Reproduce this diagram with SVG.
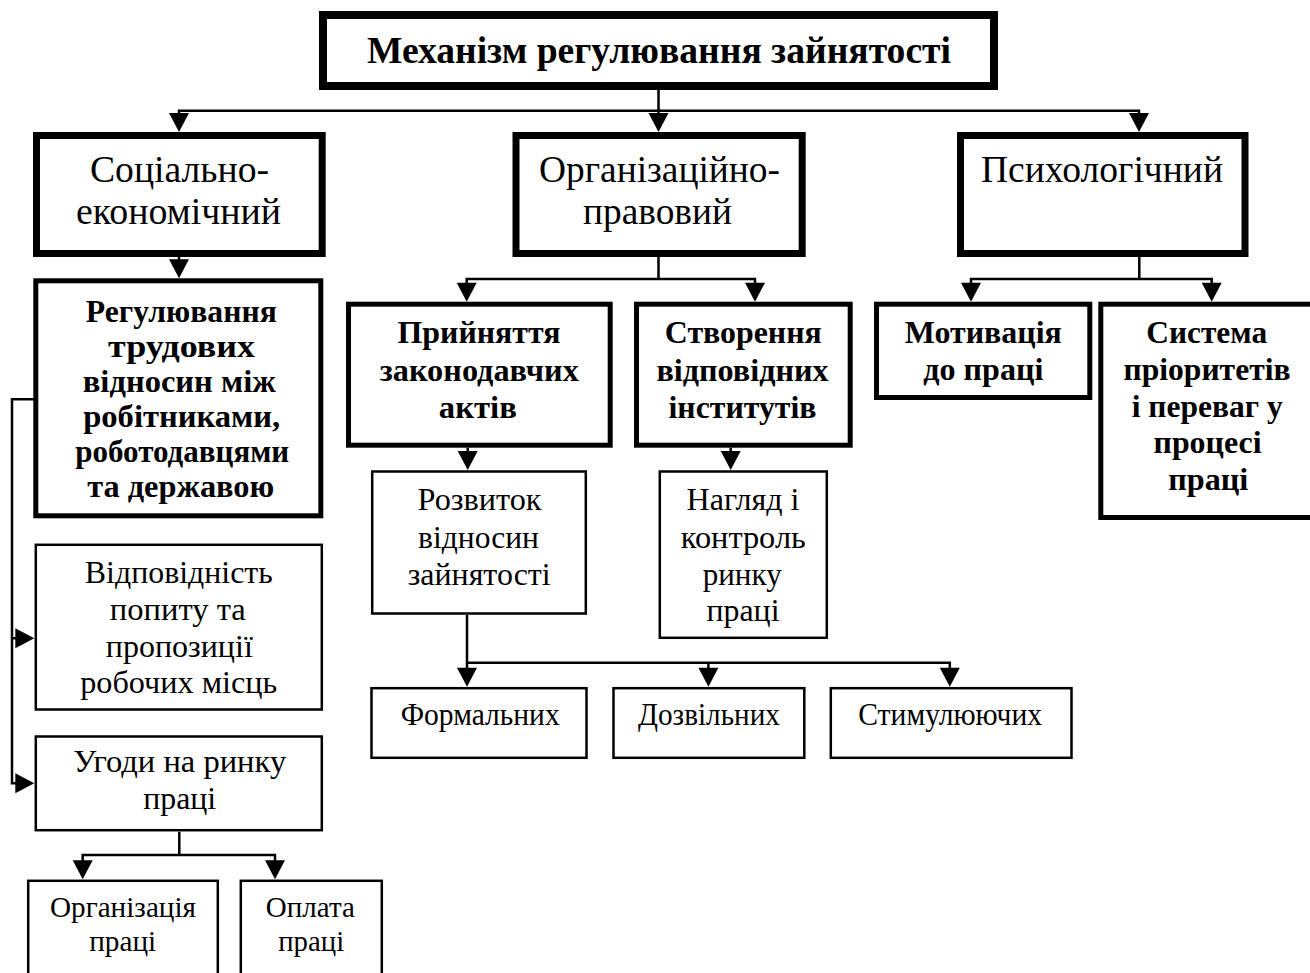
<svg xmlns="http://www.w3.org/2000/svg" xmlns:xlink="http://www.w3.org/1999/xlink" width="1310" height="973" viewBox="0 0 1310 973">
<defs>
<style>
.b{fill:#fff;stroke:#000}
.w8{stroke-width:8}
.w7{stroke-width:7}
.w5{stroke-width:5}
.w3{stroke-width:2.5}
.c{fill:none;stroke:#000;stroke-width:2.5}
text{font-family:"Liberation Serif","Times New Roman",serif;fill:#000;text-anchor:middle}
.t{font-size:38px;font-weight:bold}
.l1{font-size:37px}
.bd{font-size:32px;font-weight:bold}
.r{font-size:32px}
.s{font-size:29.5px}
</style>
<path id="ad" d="M-10,-19 L10,-19 L0,0 Z" fill="#000"/>
<path id="ar" d="M-19,-10 L-19,10 L0,0 Z" fill="#000"/>
</defs>
<rect width="1310" height="973" fill="#fff"/>

<g id="connectors">
<path class="c" d="M658.5,90 V116 M179,116 V110.7 H1139 V116"/>
<use xlink:href="#ad" x="179" y="132"/>
<use xlink:href="#ad" x="658.5" y="132"/>
<use xlink:href="#ad" x="1139" y="132"/>
<path class="c" d="M179,257 V264"/>
<use xlink:href="#ad" x="179" y="278.3"/>
<path class="c" d="M658.5,257 V279 M466.7,285 V279 H755 V285"/>
<use xlink:href="#ad" x="466.7" y="301.7"/>
<use xlink:href="#ad" x="755" y="301.7"/>
<path class="c" d="M1139.3,257 V279 M971,285 V279 H1211.7 V285"/>
<use xlink:href="#ad" x="971" y="301.7"/>
<use xlink:href="#ad" x="1211.7" y="301.7"/>
<path class="c" d="M467.7,447.7 V455"/>
<use xlink:href="#ad" x="467.7" y="470"/>
<path class="c" d="M730.7,447.7 V455"/>
<use xlink:href="#ad" x="730.7" y="470"/>
<path class="c" d="M467,615 V662.7 H949.8 V670 M708.4,662.7 V670 M467,662.7 V670"/>
<use xlink:href="#ad" x="467" y="686.7"/>
<use xlink:href="#ad" x="708.4" y="686.7"/>
<use xlink:href="#ad" x="949.8" y="686.7"/>
<path class="c" d="M34,399.3 H12 V783.3 H20 M12,638.3 H20"/>
<use xlink:href="#ar" x="34.3" y="638.3"/>
<use xlink:href="#ar" x="34.3" y="783.3"/>
<path class="c" d="M179.3,831.7 V855 M82.7,862 V855 H275 V862"/>
<use xlink:href="#ad" x="82.7" y="879.3"/>
<use xlink:href="#ad" x="275" y="879.3"/>
</g>

<g id="n-title">
<rect class="b w8" x="323" y="15" width="671" height="71"/>
<text class="t" x="659" y="63" textLength="584" lengthAdjust="spacingAndGlyphs">Механізм регулювання зайнятості</text>
</g>

<g id="n-soc">
<rect class="b w7" x="36.5" y="135.5" width="285.7" height="118"/>
<text class="l1" x="179.5" y="181.7" textLength="179" lengthAdjust="spacingAndGlyphs">Соціально-</text>
<text class="l1" x="178.5" y="224" textLength="205" lengthAdjust="spacingAndGlyphs">економічний</text>
</g>

<g id="n-org">
<rect class="b w7" x="516" y="135.5" width="286.2" height="118"/>
<text class="l1" x="659.5" y="181.7" textLength="241" lengthAdjust="spacingAndGlyphs">Організаційно-</text>
<text class="l1" x="657.5" y="224" textLength="149" lengthAdjust="spacingAndGlyphs">правовий</text>
</g>

<g id="n-psy">
<rect class="b w7" x="960.5" y="135.5" width="284.5" height="118"/>
<text class="l1" x="1102" y="182" textLength="242" lengthAdjust="spacingAndGlyphs">Психологічний</text>
</g>

<g id="n-reg">
<rect class="b w5" x="35.8" y="280.8" width="285" height="235"/>
<text class="bd" x="181.3" y="321.7" textLength="191" lengthAdjust="spacingAndGlyphs">Регулювання</text>
<text class="bd" x="181.5" y="356.7" textLength="147" lengthAdjust="spacingAndGlyphs">трудових</text>
<text class="bd" x="179.3" y="391.7" textLength="193" lengthAdjust="spacingAndGlyphs">відносин між</text>
<text class="bd" x="181.7" y="426.7" textLength="197" lengthAdjust="spacingAndGlyphs">робітниками,</text>
<text class="bd" x="182.2" y="461.7" textLength="214" lengthAdjust="spacingAndGlyphs">роботодавцями</text>
<text class="bd" x="180.7" y="496.7" textLength="187" lengthAdjust="spacingAndGlyphs">та державою</text>
</g>

<g id="n-pryin">
<rect class="b w5" x="348.5" y="304.2" width="261.7" height="141"/>
<text class="bd" x="479" y="343.3" textLength="163" lengthAdjust="spacingAndGlyphs">Прийняття</text>
<text class="bd" x="479.3" y="381" textLength="199" lengthAdjust="spacingAndGlyphs">законодавчих</text>
<text class="bd" x="477.8" y="418.3" textLength="78" lengthAdjust="spacingAndGlyphs">актів</text>
</g>

<g id="n-stv">
<rect class="b w5" x="636.5" y="304.2" width="213.7" height="141"/>
<text class="bd" x="743.3" y="343.3" textLength="157" lengthAdjust="spacingAndGlyphs">Створення</text>
<text class="bd" x="742.5" y="381" textLength="172" lengthAdjust="spacingAndGlyphs">відповідних</text>
<text class="bd" x="742.5" y="418.3" textLength="148" lengthAdjust="spacingAndGlyphs">інститутів</text>
</g>

<g id="n-mot">
<rect class="b w5" x="876.5" y="304.2" width="213.3" height="93.3"/>
<text class="bd" x="983.3" y="343.3" textLength="157" lengthAdjust="spacingAndGlyphs">Мотивація</text>
<text class="bd" x="983.3" y="380" textLength="120" lengthAdjust="spacingAndGlyphs">до праці</text>
</g>

<g id="n-sys">
<rect class="b w5" x="1100.8" y="304.2" width="300" height="213.3"/>
<text class="bd" x="1206.7" y="343.3" textLength="121" lengthAdjust="spacingAndGlyphs">Система</text>
<text class="bd" x="1207" y="380" textLength="167" lengthAdjust="spacingAndGlyphs">пріоритетів</text>
<text class="bd" x="1207.2" y="416.7" textLength="151" lengthAdjust="spacingAndGlyphs">і переваг у</text>
<text class="bd" x="1207.5" y="453.3" textLength="108" lengthAdjust="spacingAndGlyphs">процесі</text>
<text class="bd" x="1208.3" y="490" textLength="80" lengthAdjust="spacingAndGlyphs">праці</text>
</g>

<g id="n-rozv">
<rect class="b w3" x="372.2" y="471.5" width="213.6" height="142"/>
<text class="r" x="479.5" y="510" textLength="124" lengthAdjust="spacingAndGlyphs">Розвиток</text>
<text class="r" x="478.5" y="547.7" textLength="121" lengthAdjust="spacingAndGlyphs">відносин</text>
<text class="r" x="479.2" y="585" textLength="143" lengthAdjust="spacingAndGlyphs">зайнятості</text>
</g>

<g id="n-nahl">
<rect class="b w3" x="659.8" y="471.5" width="167" height="166.3"/>
<text class="r" x="743" y="510" textLength="113" lengthAdjust="spacingAndGlyphs">Нагляд і</text>
<text class="r" x="743.3" y="547.7" textLength="125" lengthAdjust="spacingAndGlyphs">контроль</text>
<text class="r" x="742.2" y="585" textLength="79" lengthAdjust="spacingAndGlyphs">ринку</text>
<text class="r" x="743" y="621" textLength="73" lengthAdjust="spacingAndGlyphs">праці</text>
</g>

<g id="n-vidp">
<rect class="b w3" x="35.8" y="544.8" width="286" height="164.7"/>
<text class="r" x="178.8" y="583.3" textLength="188" lengthAdjust="spacingAndGlyphs">Відповідність</text>
<text class="r" x="177.8" y="620" textLength="136" lengthAdjust="spacingAndGlyphs">попиту та</text>
<text class="r" x="179.3" y="656.7" textLength="147" lengthAdjust="spacingAndGlyphs">пропозиції</text>
<text class="r" x="178.7" y="693.3" textLength="197" lengthAdjust="spacingAndGlyphs">робочих місць</text>
</g>

<g id="n-uhody">
<rect class="b w3" x="35.8" y="736.5" width="286" height="93.7"/>
<text class="r" x="179.7" y="772.3" textLength="213" lengthAdjust="spacingAndGlyphs">Угоди на ринку</text>
<text class="r" x="179.7" y="809.3" textLength="73" lengthAdjust="spacingAndGlyphs">праці</text>
</g>

<g id="n-form">
<rect class="b w3" x="371.5" y="688.2" width="215" height="69.6"/>
<text class="r" x="480.2" y="725" textLength="159" lengthAdjust="spacingAndGlyphs">Формальних</text>
</g>

<g id="n-dozv">
<rect class="b w3" x="613.5" y="688.2" width="190.8" height="69.6"/>
<text class="r" x="709" y="725" textLength="142" lengthAdjust="spacingAndGlyphs">Дозвільних</text>
</g>

<g id="n-stym">
<rect class="b w3" x="830.8" y="688.2" width="240.7" height="69.6"/>
<text class="r" x="950.2" y="725" textLength="184" lengthAdjust="spacingAndGlyphs">Стимулюючих</text>
</g>

<g id="n-orgpr">
<rect class="b w3" x="28.2" y="880.8" width="189.6" height="200"/>
<text class="s" x="123" y="916.7" textLength="146" lengthAdjust="spacingAndGlyphs">Організація</text>
<text class="s" x="122.7" y="950.7" textLength="67" lengthAdjust="spacingAndGlyphs">праці</text>
</g>

<g id="n-oplata">
<rect class="b w3" x="240.8" y="880.8" width="141" height="200"/>
<text class="s" x="310.3" y="916.7" textLength="89" lengthAdjust="spacingAndGlyphs">Оплата</text>
<text class="s" x="311.2" y="950.7" textLength="66" lengthAdjust="spacingAndGlyphs">праці</text>
</g>
</svg>
